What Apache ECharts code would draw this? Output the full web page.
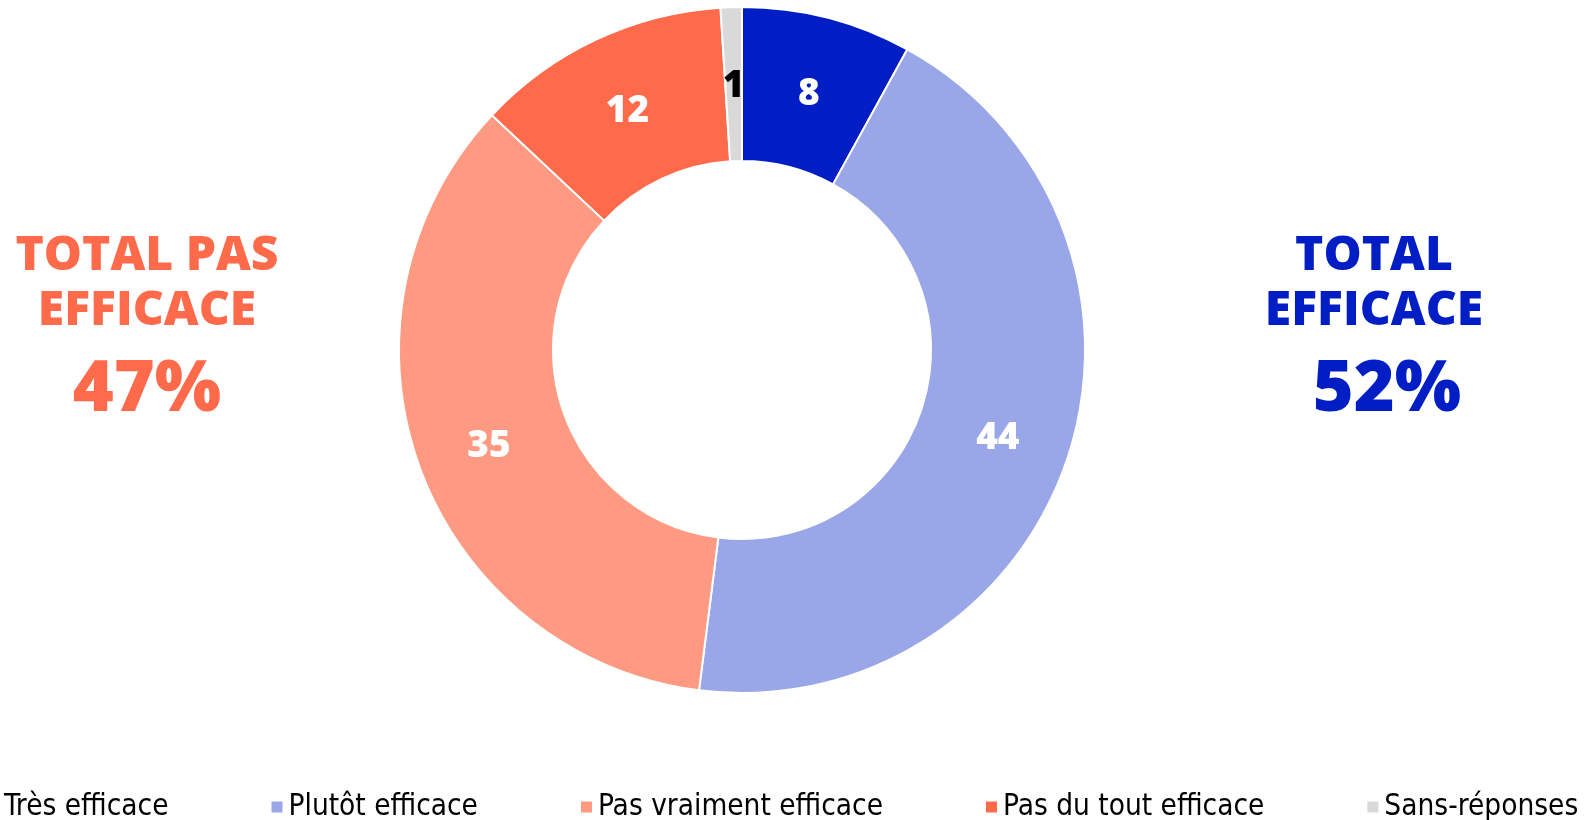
<!DOCTYPE html>
<html>
<head>
<meta charset="utf-8">
<script src="https://cdn.jsdelivr.net/npm/echarts@6/dist/echarts.min.js"></script>
<style>
html,body{margin:0;padding:0;background:#fff;}
#chart{width:1590px;height:820px;}
</style>
</head>
<body>
<div id="chart"></div>
<script>
const categories = ['Très efficace', 'Plutôt efficace', 'Pas vraiment efficace', 'Pas du tout efficace', 'Sans-réponses'];
const values = [8, 44, 35, 12, 1];
const colors = ['#001EC4', '#99A7E8', '#FF9A82', '#FF6A4B', '#D9D9D9'];
const labelColors = ['#fff', '#fff', '#fff', '#fff', '#000'];
const leftLines = ['TOTAL PAS', 'EFFICACE', '47%'];
const rightLines = ['TOTAL', 'EFFICACE', '52%'];

const chart = echarts.init(document.getElementById('chart'), null, {renderer: 'canvas'});
const titleFont = '"Open Sans", "Noto Sans", sans-serif';
chart.setOption({
  animation: false,
  legend: {
    left: -20,
    top: 787,
    width: 1900,
    itemWidth: 13,
    itemHeight: 13,
    itemGap: 101,
    icon: 'rect',
    textStyle: {fontFamily: '"DejaVu Sans Condensed", "DejaVu Sans", sans-serif', fontSize: 29.5, color: '#000'},
    data: categories
  },
  graphic: [
    {type: 'text', x: 147, y: 256, style: {text: leftLines[0], font: '800 48px ' + titleFont, fill: '#FF6A4B', textAlign: 'center', textVerticalAlign: 'middle'}},
    {type: 'text', x: 147, y: 311, style: {text: leftLines[1], font: '800 48px ' + titleFont, fill: '#FF6A4B', textAlign: 'center', textVerticalAlign: 'middle'}},
    {type: 'text', x: 147, y: 391, style: {text: leftLines[2], font: '800 70px ' + titleFont, fill: '#FF6A4B', textAlign: 'center', textVerticalAlign: 'middle'}},
    {type: 'text', x: 1374, y: 256, style: {text: rightLines[0], font: '800 48px ' + titleFont, fill: '#001EC4', textAlign: 'center', textVerticalAlign: 'middle'}},
    {type: 'text', x: 1374, y: 311, style: {text: rightLines[1], font: '800 48px ' + titleFont, fill: '#001EC4', textAlign: 'center', textVerticalAlign: 'middle'}},
    {type: 'text', x: 1387, y: 391, style: {text: rightLines[2], font: '800 70px ' + titleFont, fill: '#001EC4', textAlign: 'center', textVerticalAlign: 'middle'}}
  ],
  series: [{
    type: 'pie',
    center: [742, 350],
    radius: [189, 343],
    startAngle: 90,
    clockwise: true,
    avoidLabelOverlap: false,
    itemStyle: {borderColor: '#fff', borderWidth: 2},
    label: {
      show: true,
      position: 'inside',
      formatter: '{c}',
      fontFamily: titleFont,
      fontWeight: 800,
      fontSize: 37,
      offset: [0, 5]
    },
    labelLine: {show: false},
    emphasis: {disabled: true},
    data: categories.map((name, i) => ({
      name: name,
      value: values[i],
      itemStyle: {color: colors[i]},
      label: {color: labelColors[i]}
    }))
  }]
});
</script>
</body>
</html>
